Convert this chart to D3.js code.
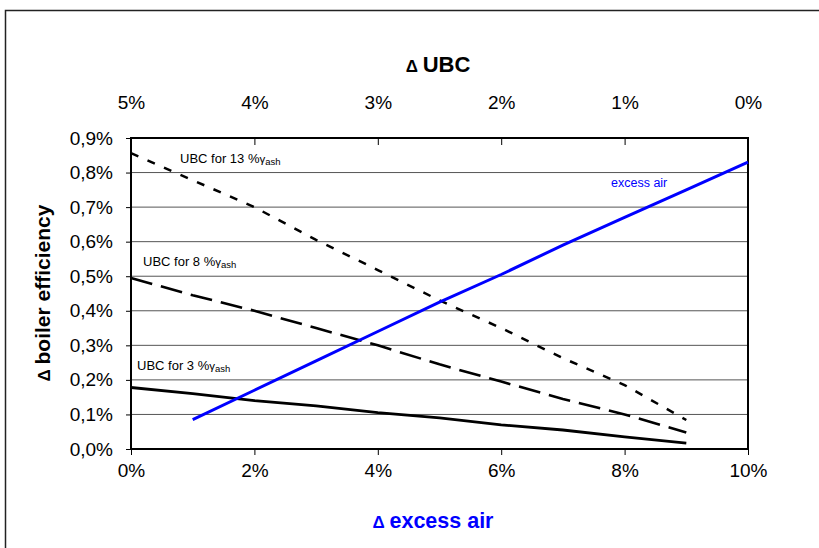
<!DOCTYPE html>
<html><head><meta charset="utf-8">
<script src="https://cdn.jsdelivr.net/npm/d3@7"></script>
<style>body{margin:0;background:#fff}svg{display:block}text{font-family:"Liberation Sans",Arial,sans-serif}</style>
</head><body><svg id="c" width="819" height="548"></svg>
<script>
const xTicks = [0,2,4,6,8,10];
const yTicks = [0,0.1,0.2,0.3,0.4,0.5,0.6,0.7,0.8,0.9];
const ubcTicks = [5,4,3,2,1,0];
const airX = [1,2,3,4,5,6,7,8,9,10];
const excessAir = [0.085,0.17,0.255,0.34,0.425,0.505,0.59,0.67,0.75,0.83];
const ubcX = [0,1,2,3,4,5,6,7,8,9];
const ubc3 = [0.178,0.16,0.14,0.125,0.105,0.09,0.07,0.055,0.035,0.017];
const ubc8 = [0.495,0.445,0.40,0.35,0.30,0.245,0.195,0.145,0.10,0.048];
const ubc13 = [0.856,0.778,0.70,0.605,0.518,0.43,0.35,0.263,0.185,0.084];

const svg = d3.select("#c");
const L=131,R=748,T=138,B=449;
const x = d3.scaleLinear().domain([0,10]).range([L,R]);
const xt = d3.scaleLinear().domain([5,0]).range([L,R]);
const y = d3.scaleLinear().domain([0,0.9]).range([B,T]);

// outer frame
svg.append("rect").attr("x",5.5).attr("y",10.5).attr("width",830).attr("height",560)
  .attr("fill","none").attr("stroke","#222").attr("stroke-width",1.5);

// gridlines
svg.append("g").selectAll("line").data(yTicks.slice(1)).join("line")
  .attr("x1",L).attr("x2",R).attr("y1",d=>y(d)).attr("y2",d=>y(d))
  .attr("stroke","#555").attr("stroke-width",1);

// axes
const fmtY = d=>d3.format(".1f")(d).replace(".",",")+"%";
const gy = svg.append("g").attr("transform",`translate(${L},0)`)
  .call(d3.axisLeft(y).tickValues(yTicks).tickFormat(fmtY).tickSizeOuter(0).tickSize(5).tickPadding(13));
const gx = svg.append("g").attr("transform",`translate(0,${B})`)
  .call(d3.axisBottom(x).tickValues(xTicks).tickFormat(d=>d+"%").tickSizeOuter(0).tickSize(6).tickPadding(9));
const gt = svg.append("g").attr("transform",`translate(0,${T})`)
  .call(d3.axisTop(xt).tickValues(ubcTicks).tickFormat(d=>d+"%").tickSizeOuter(0).tickSizeInner(-7).tickPadding(29));
[gy,gx,gt].forEach(g=>{
  g.selectAll("text").attr("font-size",19).attr("fill","#000").style("font-family","'Liberation Sans',Arial,sans-serif");
  g.selectAll("line").attr("stroke","#000");
  g.select(".domain").remove();
});
gt.selectAll("line").attr("stroke-width",1);

// plot border
svg.append("rect").attr("x",L).attr("y",T).attr("width",R-L).attr("height",B-T)
  .attr("fill","none").attr("stroke","#000").attr("stroke-width",2);

const line = d3.line().x(d=>x(d[0])).y(d=>y(d[1]));
svg.append("path").datum(ubcX.map((v,i)=>[v,ubc3[i]])).attr("d",line)
  .attr("fill","none").attr("stroke","#000").attr("stroke-width",2.8);
svg.append("path").datum(ubcX.map((v,i)=>[v,ubc8[i]])).attr("d",line)
  .attr("fill","none").attr("stroke","#000").attr("stroke-width",2.6).attr("stroke-dasharray","22,9");
svg.append("path").datum(ubcX.map((v,i)=>[v,ubc13[i]])).attr("d",line)
  .attr("fill","none").attr("stroke","#000").attr("stroke-width",2.5).attr("stroke-dasharray","8,10");
svg.append("path").datum(airX.map((v,i)=>[v,excessAir[i]])).attr("d",line)
  .attr("fill","none").attr("stroke","#0000ff").attr("stroke-width",3);

// curve labels
function ubcLabel(px,py,n){
  const t = svg.append("text").attr("x",px).attr("y",py).attr("font-size",13).attr("fill","#000");
  t.append("tspan").text(`UBC for ${n} %`);
  t.append("tspan").attr("font-size",11.5).text("γ");
  t.append("tspan").attr("font-size",9.5).attr("dy",2).text("ash");
}
ubcLabel(180,163,13);
ubcLabel(143,266,8);
ubcLabel(137,370,3);
svg.append("text").attr("x",611).attr("y",187).attr("font-size",12.5).attr("fill","#0000ff").text("excess air");

// titles
const t1 = svg.append("text").attr("x",438).attr("y",72).attr("text-anchor","middle").attr("font-size",22).attr("font-weight","bold");
t1.append("tspan").attr("font-size",17).text("Δ ");
t1.append("tspan").text("UBC");
const t2 = svg.append("text").attr("x",433).attr("y",528).attr("text-anchor","middle").attr("font-size",21.5)
  .attr("font-weight","bold").attr("fill","#0000ff");
t2.append("tspan").attr("font-size",17).text("Δ ");
t2.append("tspan").text("excess air");
const t3 = svg.append("text").attr("transform","translate(50,293) rotate(-90)").attr("text-anchor","middle")
  .attr("font-size",21).attr("font-weight","bold");
t3.append("tspan").attr("font-size",17).text("Δ ");
t3.append("tspan").text("boiler efficiency");
</script></body></html>
